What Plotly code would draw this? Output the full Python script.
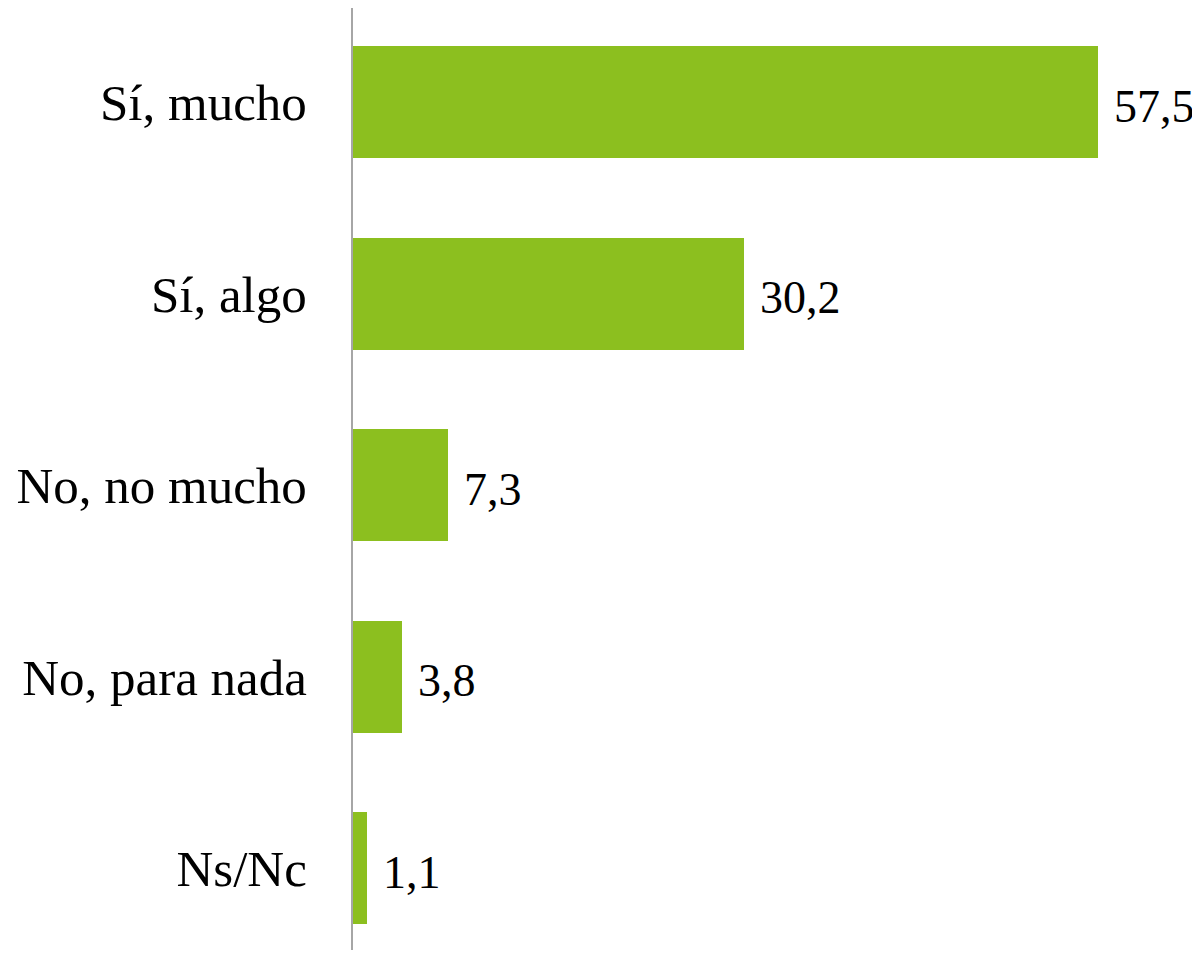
import plotly.graph_objects as go

categories = ["Sí, mucho", "Sí, algo", "No, no mucho", "No, para nada", "Ns/Nc"]
values = [57.5, 30.2, 7.3, 3.8, 1.1]
value_labels = ["57,5", "30,2", "7,3", "3,8", "1,1"]

positions = list(range(len(categories)))
font_family = "Liberation Serif, DejaVu Serif, serif"

fig = go.Figure()
fig.add_trace(go.Bar(
    x=values,
    y=positions,
    orientation="h",
    marker=dict(color="#8CBF1F", line=dict(width=0)),
    width=0.585,
    hoverinfo="skip",
))

for p, v, t in zip(positions, values, value_labels):
    fig.add_annotation(
        x=v, y=p, text=t, showarrow=False,
        xanchor="left", yanchor="middle", xshift=14, yshift=-4,
        font=dict(family=font_family, size=46, color="#000000"),
    )

fig.update_layout(
    width=1192, height=942,
    margin=dict(l=345, r=0, t=0, b=0, autoexpand=False),
    plot_bgcolor="white",
    paper_bgcolor="white",
    showlegend=False,
    bargap=0,
)
fig.update_xaxes(
    range=[0, 65.35], visible=False, showgrid=False, zeroline=False,
)
fig.update_yaxes(
    range=[4.4257, -0.4933],
    tickmode="array", tickvals=positions, ticktext=categories,
    showgrid=False, zeroline=False,
    showline=True, linecolor="#A6A6A6", linewidth=2,
    ticks="", ticklabelstandoff=34,
    tickfont=dict(family=font_family, size=51, color="#000000"),
    automargin=False,
)

fig.write_html("out.html")
